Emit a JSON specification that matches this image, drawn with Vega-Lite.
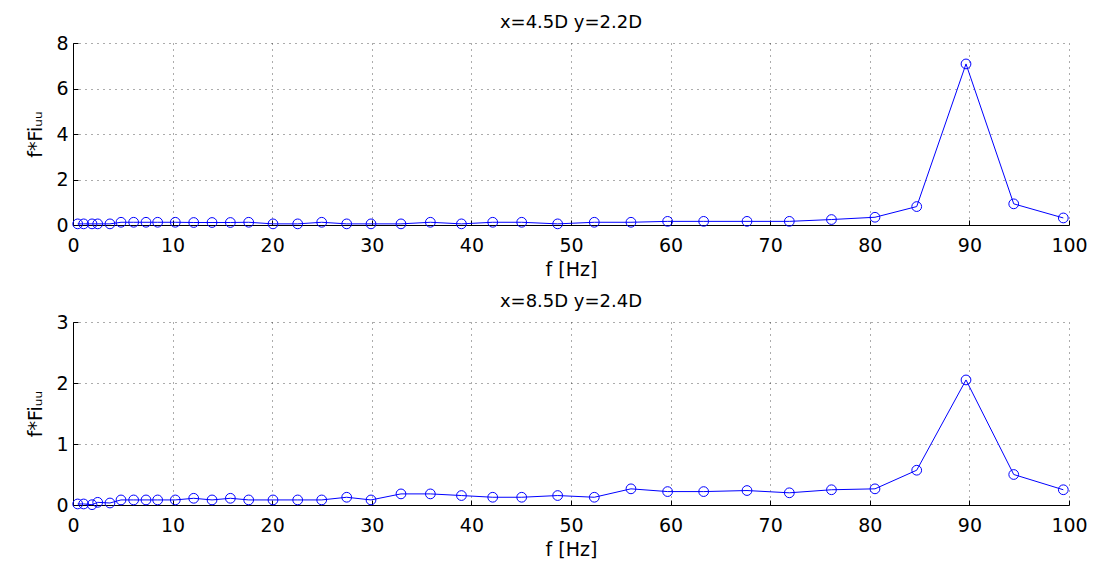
{
  "$schema": "https://vega.github.io/schema/vega-lite/v6.json",
  "padding": {"left": 26, "top": 14, "right": 5, "bottom": 5},
  "background": "white",
  "spacing": 14,
  "config": {
    "font": "DejaVu Sans",
    "view": {"stroke": null},
    "axis": {
      "labelFont": "DejaVu Sans", "titleFont": "DejaVu Sans",
      "labelFontSize": 19, "titleFontSize": 19, "titleFontWeight": "normal",
      "labelColor": "#000", "titleColor": "#000",
      "domainColor": "#000", "tickColor": "#000", "domainWidth": 1,
      "gridColor": "#000", "gridDash": [1, 5], "gridOpacity": 0.65, "gridWidth": 1,
      "tickSize": -5, "labelOverlap": false, "labelFlush": false
    },
    "axisX": {"labelPadding": 16, "titlePadding": 5},
    "axisY": {"labelPadding": 10, "titlePadding": 10},
    "title": {"font": "DejaVu Sans", "fontSize": 18, "fontWeight": "normal", "color": "#000", "offset": 2}
  },
  "datasets": {
    "a": [
      {"f": 0.47, "v": 0.05}, {"f": 1.07, "v": 0.05}, {"f": 1.91, "v": 0.05}, {"f": 2.48, "v": 0.05},
      {"f": 3.71, "v": 0.05}, {"f": 4.82, "v": 0.12}, {"f": 6.09, "v": 0.12}, {"f": 7.33, "v": 0.12},
      {"f": 8.5, "v": 0.12}, {"f": 10.27, "v": 0.12}, {"f": 12.12, "v": 0.11}, {"f": 13.96, "v": 0.11},
      {"f": 15.8, "v": 0.11}, {"f": 17.64, "v": 0.12}, {"f": 20.08, "v": 0.05}, {"f": 22.56, "v": 0.05},
      {"f": 24.97, "v": 0.12}, {"f": 27.48, "v": 0.05}, {"f": 29.92, "v": 0.05}, {"f": 32.93, "v": 0.05},
      {"f": 35.88, "v": 0.12}, {"f": 39.0, "v": 0.05}, {"f": 42.14, "v": 0.12}, {"f": 45.05, "v": 0.12},
      {"f": 48.66, "v": 0.05}, {"f": 52.34, "v": 0.12}, {"f": 56.02, "v": 0.12}, {"f": 59.7, "v": 0.16},
      {"f": 63.32, "v": 0.16}, {"f": 67.67, "v": 0.16}, {"f": 71.92, "v": 0.16}, {"f": 76.15, "v": 0.24},
      {"f": 80.52, "v": 0.34}, {"f": 84.71, "v": 0.81}, {"f": 89.66, "v": 7.08}, {"f": 94.45, "v": 0.93},
      {"f": 99.43, "v": 0.31}
    ],
    "b": [
      {"f": 0.47, "v": 0.017}, {"f": 1.07, "v": 0.017}, {"f": 1.91, "v": 0.005}, {"f": 2.48, "v": 0.044},
      {"f": 3.71, "v": 0.033}, {"f": 4.82, "v": 0.083}, {"f": 6.09, "v": 0.083}, {"f": 7.33, "v": 0.083},
      {"f": 8.5, "v": 0.083}, {"f": 10.27, "v": 0.083}, {"f": 12.12, "v": 0.11}, {"f": 13.96, "v": 0.083},
      {"f": 15.8, "v": 0.11}, {"f": 17.64, "v": 0.083}, {"f": 20.08, "v": 0.083}, {"f": 22.56, "v": 0.083},
      {"f": 24.97, "v": 0.083}, {"f": 27.48, "v": 0.127}, {"f": 29.92, "v": 0.083}, {"f": 32.93, "v": 0.182},
      {"f": 35.88, "v": 0.182}, {"f": 39.0, "v": 0.155}, {"f": 42.14, "v": 0.127}, {"f": 45.05, "v": 0.127},
      {"f": 48.66, "v": 0.155}, {"f": 52.34, "v": 0.127}, {"f": 56.02, "v": 0.265}, {"f": 59.7, "v": 0.22},
      {"f": 63.32, "v": 0.22}, {"f": 67.67, "v": 0.237}, {"f": 71.92, "v": 0.2}, {"f": 76.15, "v": 0.25},
      {"f": 80.52, "v": 0.265}, {"f": 84.71, "v": 0.57}, {"f": 89.66, "v": 2.05}, {"f": 94.45, "v": 0.5},
      {"f": 99.43, "v": 0.25}
    ]
  },
  "vconcat": [
    {
      "width": 996, "height": 182,
      "title": "x=4.5D y=2.2D",
      "data": {"name": "a"},
      "encoding": {
        "x": {"field": "f", "type": "quantitative", "scale": {"domain": [0, 100], "nice": false},
              "axis": {"values": [0,10,20,30,40,50,60,70,80,90,100], "title": "f [Hz]"}},
        "y": {"field": "v", "type": "quantitative", "scale": {"domain": [0, 8], "nice": false},
              "axis": {"values": [0,2,4,6,8], "title": "f*Fiᵤᵤ"}}
      },
      "layer": [
        {"mark": {"type": "line", "color": "#0000ff", "strokeWidth": 1}},
        {"mark": {"type": "point", "shape": "circle", "filled": false, "color": "#0000ff", "size": 95, "strokeWidth": 1, "opacity": 1}}
      ]
    },
    {
      "width": 996, "height": 183,
      "title": "x=8.5D y=2.4D",
      "data": {"name": "b"},
      "encoding": {
        "x": {"field": "f", "type": "quantitative", "scale": {"domain": [0, 100], "nice": false},
              "axis": {"values": [0,10,20,30,40,50,60,70,80,90,100], "title": "f [Hz]"}},
        "y": {"field": "v", "type": "quantitative", "scale": {"domain": [0, 3], "nice": false},
              "axis": {"values": [0,1,2,3], "title": "f*Fiᵤᵤ"}}
      },
      "layer": [
        {"mark": {"type": "line", "color": "#0000ff", "strokeWidth": 1}},
        {"mark": {"type": "point", "shape": "circle", "filled": false, "color": "#0000ff", "size": 95, "strokeWidth": 1, "opacity": 1}}
      ]
    }
  ]
}
